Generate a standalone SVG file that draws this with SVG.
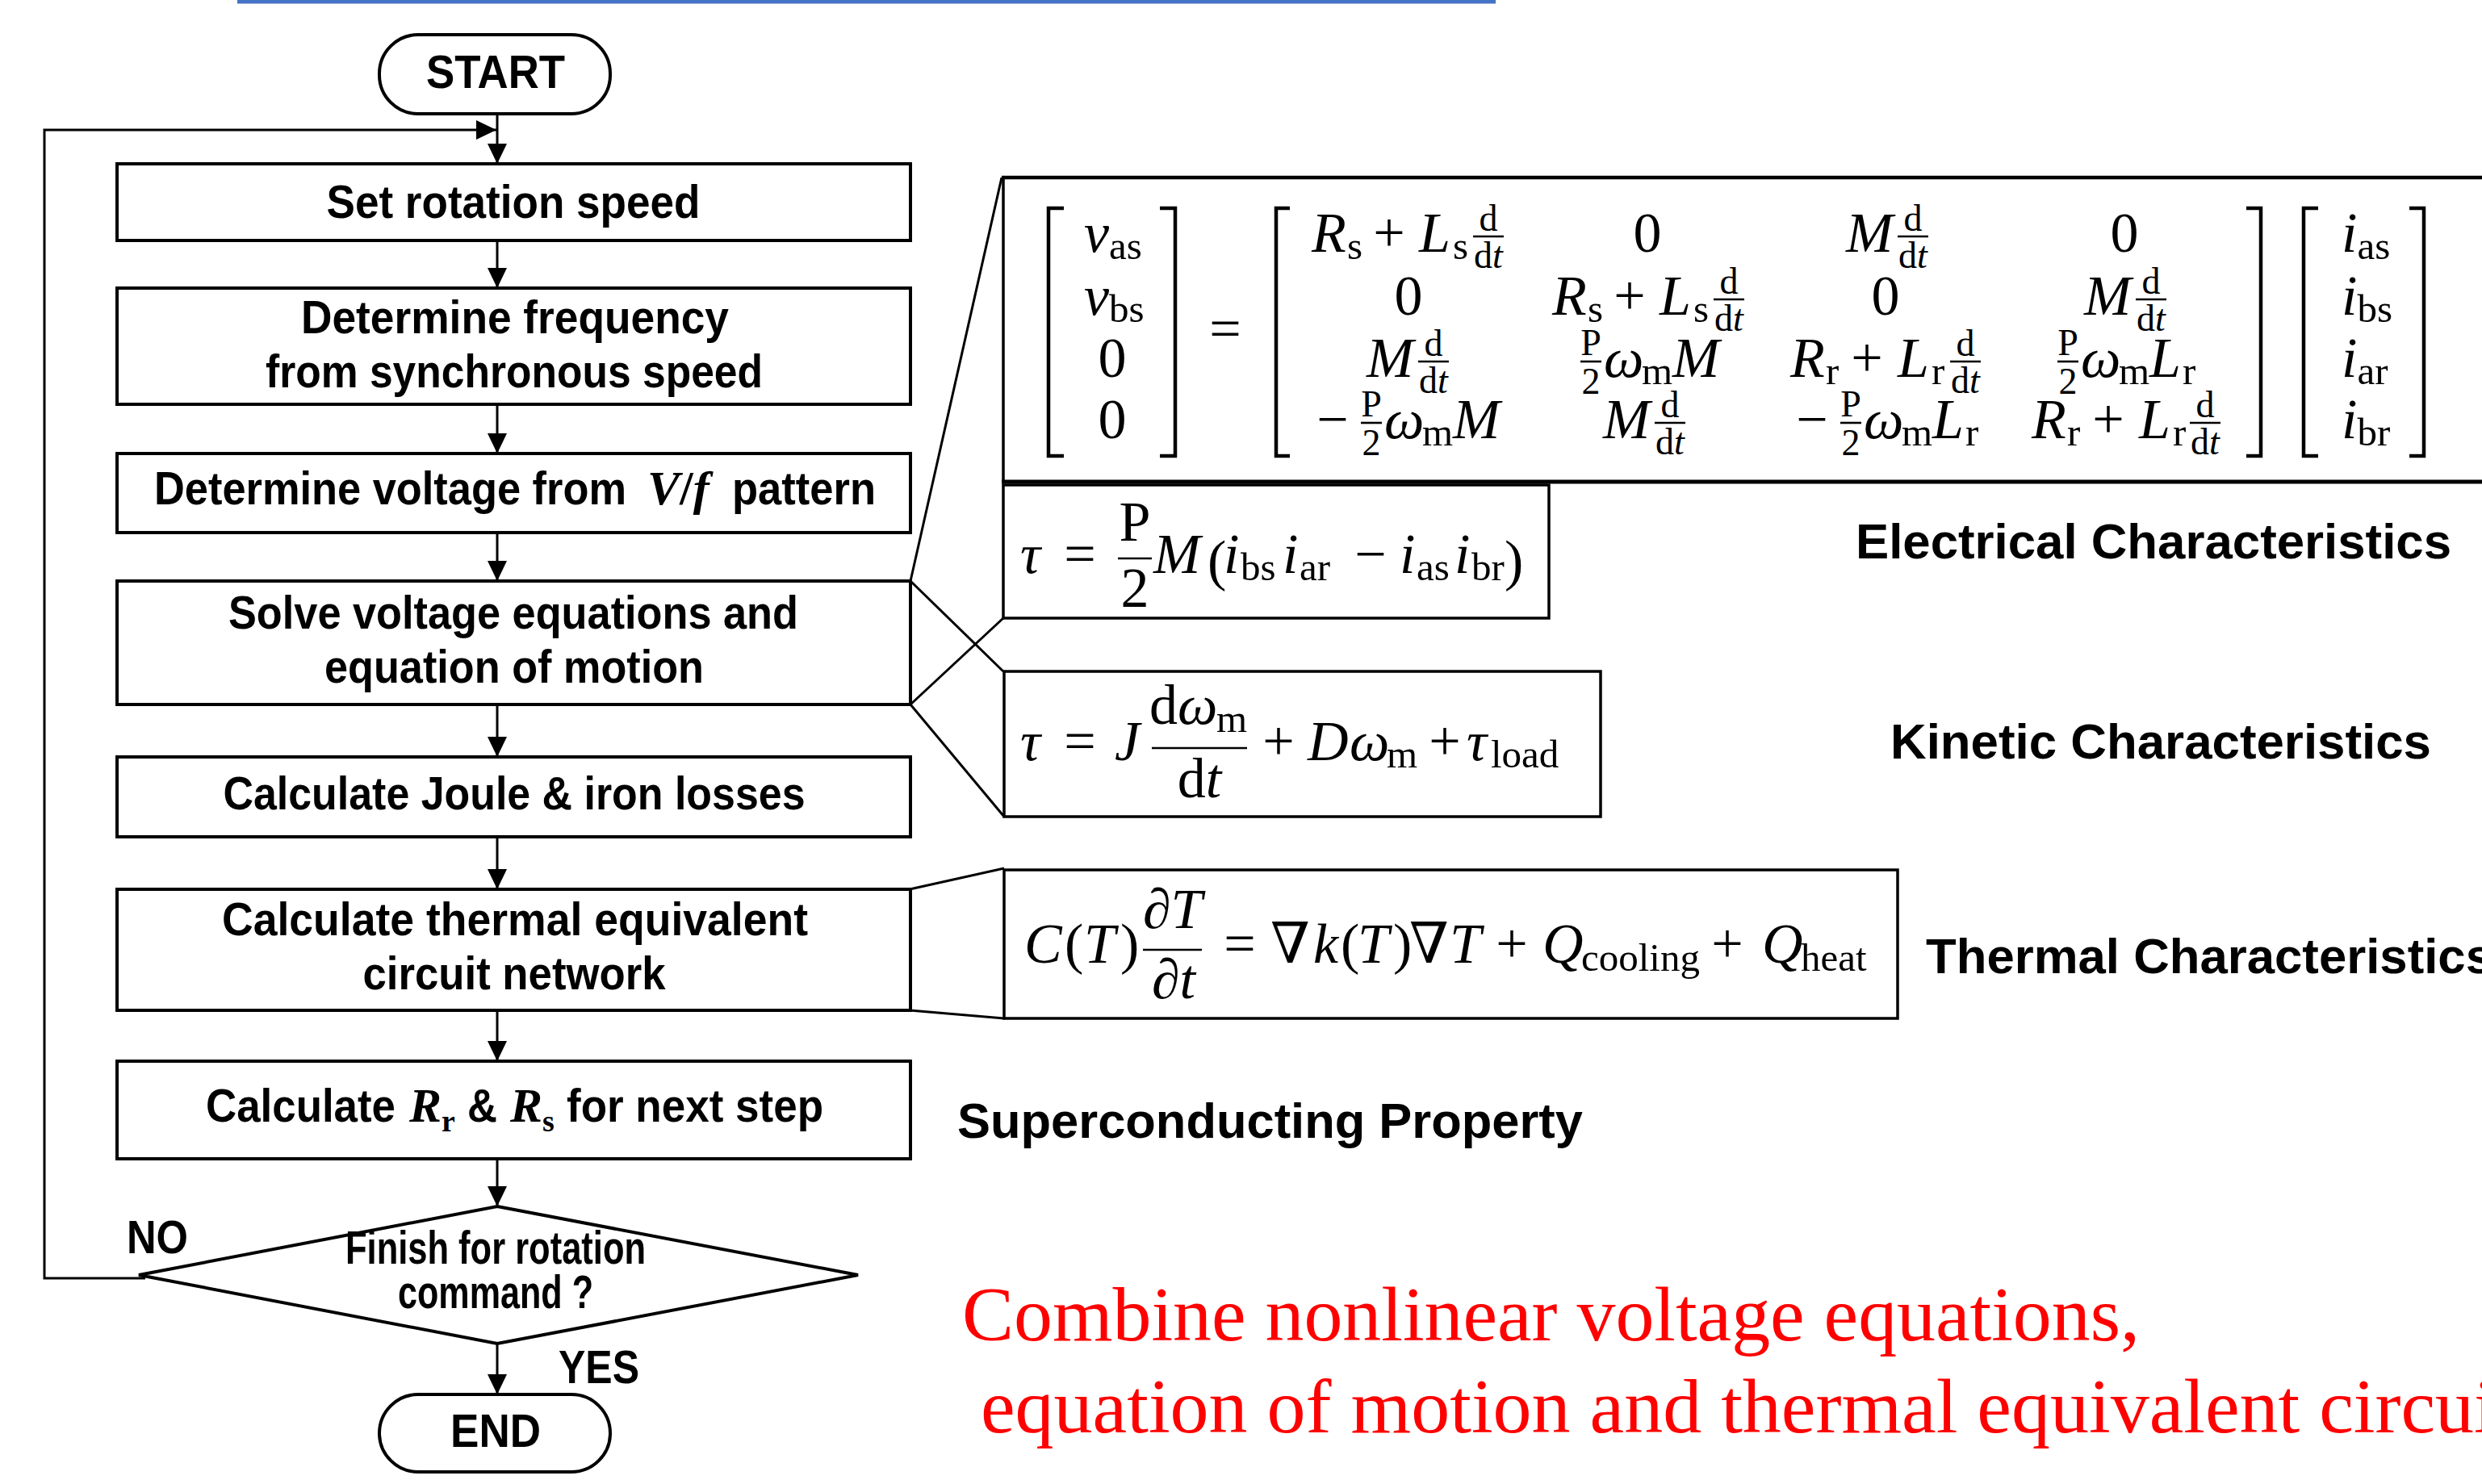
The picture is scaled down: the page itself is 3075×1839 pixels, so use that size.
<svg xmlns="http://www.w3.org/2000/svg" width="3075" height="1839" viewBox="0 0 3075 1839">
<defs>
<style>
.box{fill:#fff;stroke:#000;stroke-width:4}
.cn{fill:none;stroke:#000;stroke-width:3}
.brk{fill:none;stroke:#000;stroke-width:4.5}
.bar{stroke:#000;stroke-width:2.6}
.fc{font-family:"Liberation Sans",Arial,sans-serif;font-weight:bold;font-size:58px;fill:#000;text-anchor:middle}
.fcs{font-family:"Liberation Sans",Arial,sans-serif;font-weight:bold;font-size:58px;fill:#000}
.fv{font-family:"Liberation Serif","Times New Roman",serif;font-weight:bold;font-style:italic;font-size:60px;fill:#000}
.fvs{font-family:"Liberation Serif","Times New Roman",serif;font-weight:bold;font-size:38px;fill:#000}
.lab{font-family:"Liberation Sans",Arial,sans-serif;font-weight:bold;font-size:62px;fill:#000}
.m{font-family:"Liberation Serif","DejaVu Serif",serif;font-size:70px;fill:#000}
.i{font-style:italic}
.s{font-size:49px;font-style:normal}
.f{font-size:46px;text-anchor:middle}
.c{text-anchor:middle}
.red{font-family:"Liberation Serif","Times New Roman",serif;font-size:96px;fill:#ff0000}
</style>
<marker id="ah" markerUnits="userSpaceOnUse" markerWidth="26" markerHeight="26" refX="25" refY="12" orient="auto">
<path d="M0,0 L25,12 L0,24 Z" fill="#000"/>
</marker>
</defs>
<rect width="3075" height="1839" fill="#fff"/>
<line x1="294" y1="2" x2="1853" y2="2" stroke="#4472c4" stroke-width="5"/>

<g id="connectors">
<line class="cn" x1="616" y1="141" x2="616" y2="203" marker-end="url(#ah)"/>
<line class="cn" x1="616" y1="298" x2="616" y2="357" marker-end="url(#ah)"/>
<line class="cn" x1="616" y1="501" x2="616" y2="562" marker-end="url(#ah)"/>
<line class="cn" x1="616" y1="660" x2="616" y2="720" marker-end="url(#ah)"/>
<line class="cn" x1="616" y1="873" x2="616" y2="938" marker-end="url(#ah)"/>
<line class="cn" x1="616" y1="1037" x2="616" y2="1102" marker-end="url(#ah)"/>
<line class="cn" x1="616" y1="1252" x2="616" y2="1315" marker-end="url(#ah)"/>
<line class="cn" x1="616" y1="1436" x2="616" y2="1495" marker-end="url(#ah)"/>
<line class="cn" x1="616" y1="1665" x2="616" y2="1728" marker-end="url(#ah)"/>
<polyline class="cn" points="180,1584 55,1584 55,161 615,161" marker-end="url(#ah)"/>
<line class="cn" x1="1128" y1="720" x2="1241" y2="220"/>
<line class="cn" x1="1128" y1="720" x2="1243" y2="832"/>
<line class="cn" x1="1128" y1="873" x2="1243" y2="766"/>
<line class="cn" x1="1128" y1="873" x2="1244" y2="1012"/>
<line class="cn" x1="1127" y1="1102" x2="1244" y2="1076"/>
<line class="cn" x1="1127" y1="1252" x2="1244" y2="1262"/>
</g>

<g id="start">
<rect class="box" x="470" y="43" width="286" height="98" rx="48"/>
<text class="fc" x="614" y="109" font-size="56" textLength="172" lengthAdjust="spacingAndGlyphs">START</text>
</g>
<g id="set-speed">
<rect class="box" x="145" y="203" width="983" height="95"/>
<text class="fc" x="636" y="270" textLength="463" lengthAdjust="spacingAndGlyphs">Set rotation speed</text>
</g>
<g id="det-freq">
<rect class="box" x="145" y="357" width="983" height="144"/>
<text class="fc" x="638" y="413" textLength="530" lengthAdjust="spacingAndGlyphs">Determine frequency</text>
<text class="fc" x="637" y="480" textLength="616" lengthAdjust="spacingAndGlyphs">from synchronous speed</text>
</g>
<g id="det-voltage">
<rect class="box" x="145" y="562" width="983" height="98"/>
<text class="fcs" x="191" y="625" textLength="585" lengthAdjust="spacingAndGlyphs">Determine voltage from</text>
<text class="fv" x="802" y="625">V<tspan font-style="normal">/</tspan>f</text>
<text class="fcs" x="907" y="625" textLength="178" lengthAdjust="spacingAndGlyphs">pattern</text>
</g>
<g id="solve">
<rect class="box" x="145" y="720" width="983" height="153"/>
<text class="fc" x="636" y="779" textLength="706" lengthAdjust="spacingAndGlyphs">Solve voltage equations and</text>
<text class="fc" x="637" y="846" textLength="470" lengthAdjust="spacingAndGlyphs">equation of motion</text>
</g>
<g id="losses">
<rect class="box" x="145" y="938" width="983" height="99"/>
<text class="fc" x="637" y="1003" textLength="721" lengthAdjust="spacingAndGlyphs">Calculate Joule &amp; iron losses</text>
</g>
<g id="thermal">
<rect class="box" x="145" y="1102" width="983" height="150"/>
<text class="fc" x="638" y="1159" textLength="726" lengthAdjust="spacingAndGlyphs">Calculate thermal equivalent</text>
<text class="fc" x="637" y="1226" textLength="375" lengthAdjust="spacingAndGlyphs">circuit network</text>
</g>
<g id="calc-r">
<rect class="box" x="145" y="1315" width="983" height="121"/>
<text class="fcs" x="255" y="1390" textLength="235" lengthAdjust="spacingAndGlyphs">Calculate</text>
<text class="fv" x="507" y="1390">R</text>
<text class="fvs" x="547" y="1402">r</text>
<text class="fcs" x="579" y="1390" textLength="37" lengthAdjust="spacingAndGlyphs">&amp;</text>
<text class="fv" x="632" y="1390">R</text>
<text class="fvs" x="672" y="1402">s</text>
<text class="fcs" x="702" y="1390" textLength="318" lengthAdjust="spacingAndGlyphs">for next step</text>
</g>
<g id="decision">
<polygon class="box" points="616,1495 1063,1580 616,1665 172,1580"/>
<text class="fc" x="614" y="1566" font-size="46" textLength="372" lengthAdjust="spacingAndGlyphs">Finish for rotation</text>
<text class="fc" x="614" y="1621" font-size="46" textLength="242" lengthAdjust="spacingAndGlyphs">command ?</text>
</g>
<g id="labels-flow">
<text class="fcs" x="157" y="1553" textLength="76" lengthAdjust="spacingAndGlyphs">NO</text>
<text class="fcs" x="692" y="1714" textLength="100" lengthAdjust="spacingAndGlyphs">YES</text>
</g>
<g id="end">
<rect class="box" x="470" y="1728" width="286" height="96" rx="48"/>
<text class="fc" x="614" y="1793" font-size="56" textLength="112" lengthAdjust="spacingAndGlyphs">END</text>
</g>

<g id="voltage-matrix">
<line x1="1241" y1="220" x2="3075" y2="220" stroke="#000" stroke-width="4.5"/>
<line x1="1243" y1="218" x2="1243" y2="599" stroke="#000" stroke-width="3.5"/>
<line x1="1241" y1="597" x2="3075" y2="597" stroke="#000" stroke-width="5"/>
<path class="brk" d="M1318,258 H1299 V565 H1318"/>
<path class="brk" d="M1437,258 H1456 V565 H1437"/>
<path class="brk" d="M1598,258 H1581 V565 H1598"/>
<path class="brk" d="M2783,258 H2801 V565 H2783"/>
<path class="brk" d="M2872,258 H2854 V565 H2872"/>
<path class="brk" d="M2985,258 H3003 V565 H2985"/>
<text class="m" x="1343" y="312"><tspan class="i">v</tspan><tspan class="s" dy="9">as</tspan></text>
<text class="m" x="1343" y="390"><tspan class="i">v</tspan><tspan class="s" dy="9">bs</tspan></text>
<text class="m c" x="1378" y="467">0</text>
<text class="m c" x="1378" y="543">0</text>
<text class="m c" x="1518" y="431">=</text>
<text class="m" x="2901" y="312"><tspan class="i">i</tspan><tspan class="s" dy="9">as</tspan></text>
<text class="m" x="2901" y="390"><tspan class="i">i</tspan><tspan class="s" dy="9">bs</tspan></text>
<text class="m" x="2901" y="467"><tspan class="i">i</tspan><tspan class="s" dy="9">ar</tspan></text>
<text class="m" x="2901" y="543"><tspan class="i">i</tspan><tspan class="s" dy="9">br</tspan></text>
<!-- row 1 -->
<g transform="translate(1625,312)">
<text class="m i" x="0">R</text><text class="m s" x="44" y="9">s</text><text class="m c" x="96">+</text><text class="m i" x="133">L</text><text class="m s" x="175" y="9">s</text>
<text class="m f" x="219" y="-26">d</text><line class="bar" x1="200" y1="-19" x2="238" y2="-19"/><text class="m f" x="219" y="20">d<tspan class="i">t</tspan></text>
</g>
<text class="m c" x="2041" y="312">0</text>
<g transform="translate(2287,312)">
<text class="m i" x="0">M</text>
<text class="m f" x="83" y="-26">d</text><line class="bar" x1="64" y1="-19" x2="102" y2="-19"/><text class="m f" x="83" y="20">d<tspan class="i">t</tspan></text>
</g>
<text class="m c" x="2632" y="312">0</text>
<!-- row 2 -->
<text class="m c" x="1745" y="390">0</text>
<g transform="translate(1923,390)">
<text class="m i" x="0">R</text><text class="m s" x="44" y="9">s</text><text class="m c" x="96">+</text><text class="m i" x="133">L</text><text class="m s" x="175" y="9">s</text>
<text class="m f" x="219" y="-26">d</text><line class="bar" x1="200" y1="-19" x2="238" y2="-19"/><text class="m f" x="219" y="20">d<tspan class="i">t</tspan></text>
</g>
<text class="m c" x="2336" y="390">0</text>
<g transform="translate(2582,390)">
<text class="m i" x="0">M</text>
<text class="m f" x="83" y="-26">d</text><line class="bar" x1="64" y1="-19" x2="102" y2="-19"/><text class="m f" x="83" y="20">d<tspan class="i">t</tspan></text>
</g>
<!-- row 3 -->
<g transform="translate(1693,467)">
<text class="m i" x="0">M</text>
<text class="m f" x="83" y="-26">d</text><line class="bar" x1="64" y1="-19" x2="102" y2="-19"/><text class="m f" x="83" y="20">d<tspan class="i">t</tspan></text>
</g>
<g transform="translate(1958,467)">
<text class="m f" x="13" y="-27">P</text><line class="bar" x1="0" y1="-19" x2="26" y2="-19"/><text class="m f" x="13" y="21">2</text>
<text class="m i" x="29">ω</text><text class="m s" x="76" y="9">m</text><text class="m i" x="114">M</text>
</g>
<g transform="translate(2218,467)">
<text class="m i" x="0">R</text><text class="m s" x="44" y="9">r</text><text class="m c" x="95">+</text><text class="m i" x="133">L</text><text class="m s" x="175" y="9">r</text>
<text class="m f" x="217" y="-26">d</text><line class="bar" x1="198" y1="-19" x2="236" y2="-19"/><text class="m f" x="217" y="20">d<tspan class="i">t</tspan></text>
</g>
<g transform="translate(2549,467)">
<text class="m f" x="13" y="-27">P</text><line class="bar" x1="0" y1="-19" x2="26" y2="-19"/><text class="m f" x="13" y="21">2</text>
<text class="m i" x="29">ω</text><text class="m s" x="76" y="9">m</text><text class="m i" x="114">L</text><text class="m s" x="155" y="9">r</text>
</g>
<!-- row 4 -->
<g transform="translate(1633,543)">
<text class="m c" x="18">−</text>
<text class="m f" x="66" y="-27">P</text><line class="bar" x1="53" y1="-19" x2="79" y2="-19"/><text class="m f" x="66" y="21">2</text>
<text class="m i" x="82">ω</text><text class="m s" x="129" y="9">m</text><text class="m i" x="167">M</text>
</g>
<g transform="translate(1986,543)">
<text class="m i" x="0">M</text>
<text class="m f" x="83" y="-26">d</text><line class="bar" x1="64" y1="-19" x2="102" y2="-19"/><text class="m f" x="83" y="20">d<tspan class="i">t</tspan></text>
</g>
<g transform="translate(2227,543)">
<text class="m c" x="18">−</text>
<text class="m f" x="66" y="-27">P</text><line class="bar" x1="53" y1="-19" x2="79" y2="-19"/><text class="m f" x="66" y="21">2</text>
<text class="m i" x="82">ω</text><text class="m s" x="129" y="9">m</text><text class="m i" x="167">L</text><text class="m s" x="208" y="9">r</text>
</g>
<g transform="translate(2517,543)">
<text class="m i" x="0">R</text><text class="m s" x="44" y="9">r</text><text class="m c" x="95">+</text><text class="m i" x="133">L</text><text class="m s" x="175" y="9">r</text>
<text class="m f" x="215" y="-26">d</text><line class="bar" x1="196" y1="-19" x2="234" y2="-19"/><text class="m f" x="215" y="20">d<tspan class="i">t</tspan></text>
</g>
</g>

<g id="torque-eq">
<rect x="1243" y="601" width="676" height="165" fill="none" stroke="#000" stroke-width="3.5"/>
<text class="m i" x="1264" y="710">τ</text>
<text class="m c" x="1338" y="710">=</text>
<text class="m c" x="1406" y="670">P</text>
<line class="bar" x1="1385" y1="692" x2="1427" y2="692"/>
<text class="m c" x="1406" y="752">2</text>
<text class="m i" x="1429" y="710">M</text>
<text class="m" x="1496" y="718" font-size="84">(</text>
<text class="m i" x="1516" y="710">i</text><text class="m s" x="1537" y="719">bs</text>
<text class="m i" x="1589" y="710">i</text><text class="m s" x="1610" y="719">ar</text>
<text class="m c" x="1698" y="710">−</text>
<text class="m i" x="1734" y="710">i</text><text class="m s" x="1755" y="719">as</text>
<text class="m i" x="1802" y="710">i</text><text class="m s" x="1823" y="719">br</text>
<text class="m" x="1864" y="718" font-size="84">)</text>
</g>

<g id="motion-eq">
<rect x="1244" y="832" width="739" height="180" fill="none" stroke="#000" stroke-width="3.5"/>
<text class="m i" x="1264" y="942">τ</text>
<text class="m c" x="1338" y="942">=</text>
<text class="m i" x="1381" y="942">J</text>
<text class="m" x="1424" y="897">d<tspan class="i">ω</tspan></text>
<text class="m s" x="1507" y="907">m</text>
<line class="bar" x1="1427" y1="927" x2="1545" y2="927"/>
<text class="m c" x="1486" y="988">d<tspan class="i">t</tspan></text>
<text class="m c" x="1584" y="942">+</text>
<text class="m i" x="1620" y="942">D</text>
<text class="m i" x="1672" y="942">ω</text>
<text class="m s" x="1718" y="951">m</text>
<text class="m c" x="1790" y="942">+</text>
<text class="m i" x="1817" y="942">τ</text>
<text class="m s" x="1847" y="951">load</text>
</g>

<g id="heat-eq">
<rect x="1244" y="1078" width="1107" height="184" fill="none" stroke="#000" stroke-width="3.5"/>
<text class="m i" x="1269" y="1193">C</text>
<text class="m" x="1319" y="1193">(</text>
<text class="m i" x="1343" y="1193">T</text>
<text class="m" x="1388" y="1193">)</text>
<text class="m" x="1416" y="1150">∂<tspan class="i">T</tspan></text>
<line class="bar" x1="1416" y1="1177" x2="1489" y2="1177"/>
<text class="m" x="1427" y="1237">∂<tspan class="i">t</tspan></text>
<text class="m c" x="1536" y="1193">=</text>
<text class="m" x="1574" y="1193">∇</text>
<text class="m i" x="1627" y="1193">k</text>
<text class="m" x="1661" y="1193">(</text>
<text class="m i" x="1682" y="1193">T</text>
<text class="m" x="1726" y="1193">)</text>
<text class="m" x="1746" y="1193">∇</text>
<text class="m i" x="1796" y="1193">T</text>
<text class="m c" x="1873" y="1193">+</text>
<text class="m i" x="1911" y="1193">Q</text>
<text class="m s" x="1959" y="1203">cooling</text>
<text class="m c" x="2140" y="1193">+</text>
<text class="m i" x="2183" y="1193">Q</text>
<text class="m s" x="2231" y="1203">heat</text>
</g>

<g id="captions">
<text class="lab" x="2299" y="692" textLength="738" lengthAdjust="spacingAndGlyphs">Electrical Characteristics</text>
<text class="lab" x="2342" y="940" textLength="670" lengthAdjust="spacingAndGlyphs">Kinetic Characteristics</text>
<text class="lab" x="2386" y="1206" textLength="703" lengthAdjust="spacingAndGlyphs">Thermal Characteristics</text>
<text class="lab" x="1186" y="1410" textLength="775" lengthAdjust="spacingAndGlyphs">Superconducting Property</text>
</g>

<g id="summary">
<text class="red" x="1192" y="1661" textLength="1459" lengthAdjust="spacingAndGlyphs">Combine nonlinear voltage equations,</text>
<text class="red" x="1215" y="1775">equation of motion and thermal equivalent circuit</text>
</g>
</svg>
